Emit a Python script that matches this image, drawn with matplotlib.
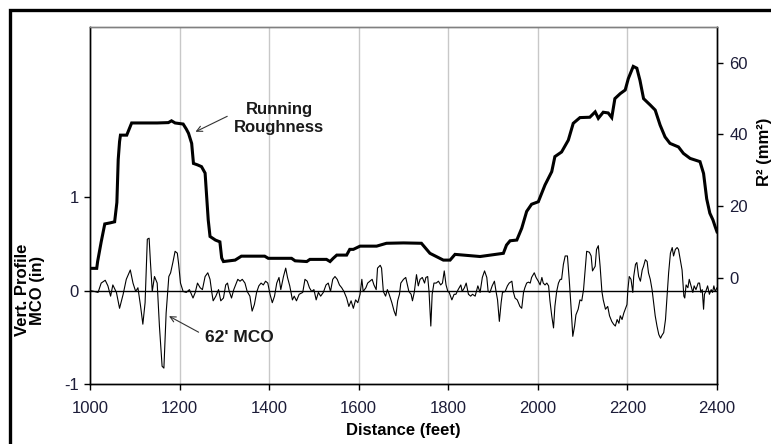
import matplotlib
matplotlib.use("Agg")
import matplotlib.pyplot as plt
from matplotlib.patches import Rectangle

plt.rcParams['font.family'] = ['Liberation Sans', 'DejaVu Sans']
plt.rcParams['axes.unicode_minus'] = False

# 62' MCO profile (inches), left axis
mco_x = [1000, 1010, 1018, 1025, 1034, 1040, 1046, 1051, 1059, 1066, 1074, 1081, 1090, 1096,
         1102, 1107, 1113, 1118, 1123, 1128, 1132, 1135, 1139, 1144, 1150, 1155, 1161, 1165,
         1170, 1176, 1180, 1185, 1190, 1195, 1198, 1202, 1208, 1215, 1222, 1230,
         1235, 1240, 1246, 1251, 1257, 1263, 1268, 1272, 1275, 1281, 1287, 1292, 1298, 1303,
         1307, 1311, 1316, 1321, 1325, 1330, 1335, 1340, 1346, 1351, 1357, 1362, 1367, 1372,
         1377, 1382, 1387, 1392, 1397, 1402, 1407, 1412, 1417, 1422, 1426, 1432, 1437, 1441,
         1446, 1452, 1456, 1461, 1467,
         1475, 1480, 1485, 1490, 1495, 1500, 1505, 1510, 1515, 1521, 1527, 1532, 1537, 1542,
         1547, 1552, 1557, 1562, 1567, 1573, 1578, 1583, 1588, 1593, 1598, 1603, 1607, 1610,
         1616, 1620, 1625, 1630, 1634, 1639, 1642, 1648, 1651, 1655, 1660, 1664, 1668, 1674,
         1679, 1683, 1687, 1691, 1694, 1700, 1705,
         1712, 1717, 1720, 1724, 1729, 1733, 1737, 1742, 1747, 1750, 1754, 1757, 1761, 1764,
         1768, 1773, 1778, 1783, 1787, 1791, 1795, 1799, 1802, 1808, 1813, 1817, 1822, 1828,
         1831, 1836, 1840, 1845, 1850, 1854, 1860, 1866, 1871, 1876, 1881, 1886, 1889, 1893,
         1898, 1903, 1907, 1910, 1914, 1918, 1921, 1927, 1932, 1936, 1942,
         1945, 1949, 1954, 1960, 1964, 1968, 1971, 1975, 1979, 1983, 1986, 1992, 1996, 2001,
         2005, 2009, 2012, 2016, 2020, 2024, 2027, 2031, 2035, 2038, 2042, 2046, 2050, 2053,
         2057, 2061, 2066, 2070, 2074, 2078, 2082, 2085, 2090, 2094, 2098, 2102, 2105, 2109,
         2115, 2119, 2122, 2128, 2131, 2135, 2139, 2143, 2146, 2151, 2156, 2160, 2165,
         2169, 2173, 2177, 2181, 2184, 2188, 2192, 2195, 2199, 2201, 2204, 2208, 2212, 2214,
         2218, 2221, 2225, 2229, 2233, 2236, 2240, 2244, 2247, 2251, 2255, 2259, 2262, 2266,
         2270, 2274, 2277, 2281, 2285, 2288, 2292, 2296, 2300, 2303, 2307, 2311, 2314, 2318,
         2322, 2326, 2328, 2331, 2335, 2338, 2342, 2346, 2349, 2353, 2358, 2361, 2364, 2367,
         2370, 2372, 2375, 2379, 2383, 2387, 2390, 2393, 2396, 2400]
mco_in = [0, -0.01, -0.02, 0.08, 0.11, 0.05, -0.06, 0.06, -0.02, -0.19, -0.04, 0.12, 0.22, 0.08,
          -0.01, 0.03, -0.17, -0.36, -0.13, 0.55, 0.56, 0.30, -0.01, 0.15, 0.08, -0.38, -0.81, -0.83,
          -0.24, 0.15, 0.19, 0.30, 0.42, 0.40, 0.28, 0.08, -0.01, -0.02, 0.01, -0.08,
          -0.02, 0.08, 0.03, 0.01, 0.15, 0.19, 0.12, -0.02, -0.11, -0.06, 0.01, -0.11, -0.08, 0.06,
          0.08, -0.01, -0.08, 0.01, 0.06, 0.12, 0.10, 0.12, 0.08, -0.01, -0.06, -0.22, -0.15, -0.02,
          0.05, 0.08, 0.06, 0.10, 0.08, -0.04, -0.13, -0.06, 0.08, 0.14, 0.01, 0.15, 0.24, 0.14,
          0.05, -0.10, -0.06, -0.11, -0.04,
          -0.02, 0.12, 0.10, 0.03, -0.01, 0.01, -0.10, -0.02, -0.06, -0.02, 0.06, 0.08, -0.01, 0.12,
          0.15, 0.12, 0.06, 0.03, -0.01, -0.08, -0.17, -0.11, -0.19, -0.10, -0.13, -0.04, 0.12, -0.01,
          0.03, 0.08, 0.10, 0.12, 0.06, 0.01, 0.24, 0.27, 0.24, -0.01, -0.06, 0.01, -0.04, -0.13,
          -0.22, -0.27, -0.11, -0.04, 0.08, 0.12, 0.14,
          -0.01, -0.04, -0.11, -0.02, 0.17, 0.05, 0.12, 0.14, 0.08, 0.14, 0.15, -0.01, -0.38, -0.04,
          0.08, 0.08, 0.10, 0.06, 0.08, 0.21, 0.06, -0.01, -0.02, -0.10, -0.04, -0.04, 0.01, 0.06,
          -0.01, 0.03, 0.08, -0.04, -0.06, -0.04, -0.06, 0.05, -0.02, 0.14, 0.21, 0.14, -0.01, -0.02,
          0.05, 0.10, -0.02, -0.10, -0.33, -0.13, -0.02, -0.01, 0.05, 0.08, 0.10,
          -0.01, -0.08, -0.10, -0.17, -0.19, -0.02, 0.03, 0.08, 0.09, 0.08, 0.14, 0.19, 0.14, 0.10,
          0.06, 0.14, 0.08, 0.06, 0.08, 0.05, -0.11, -0.27, -0.40, -0.17, -0.01, 0.08, 0.12, 0.12,
          0.28, 0.37, 0.37, 0.12, -0.17, -0.49, -0.38, -0.26, -0.20, -0.10, -0.11, 0.01, 0.19, 0.42,
          0.41, 0.37, 0.21, 0.26, 0.44, 0.48, 0.26, -0.01, -0.10, -0.20, -0.17, -0.27, -0.33,
          -0.36, -0.38, -0.31, -0.35, -0.27, -0.31, -0.24, -0.20, -0.15, 0.01, 0.15, 0.12, -0.02, 0.15,
          0.28, 0.30, 0.15, 0.10, 0.22, 0.26, 0.33, 0.31, 0.19, 0.12, 0.01, -0.15, -0.27, -0.38,
          -0.47, -0.51, -0.48, -0.45, -0.31, -0.10, 0.19, 0.40, 0.46, 0.37, 0.44, 0.46, 0.44, 0.33,
          0.22, -0.06, -0.08, 0.06, 0.03, 0.12, 0.05, -0.02, 0.05, 0.01, 0.08, 0.08, -0.02, 0.01,
          -0.20, -0.04, -0.01, 0.05, -0.04, 0.01, -0.02, 0.05, -0.01, 0.03]

# running roughness R^2 (mm^2), right axis
rr_x = [1000, 1015, 1017, 1025, 1033, 1045, 1055, 1060, 1063, 1066, 1068, 1082, 1093, 1120,
        1150, 1175, 1182, 1190, 1208, 1215, 1220, 1227, 1231, 1240, 1249, 1257, 1261, 1264,
        1268, 1280, 1290, 1294, 1298, 1324, 1338, 1390, 1398, 1450, 1458, 1484, 1491, 1528,
        1536, 1543, 1551, 1573, 1580, 1588, 1603, 1640, 1662, 1700, 1740, 1759, 1789, 1804,
        1815, 1871, 1923, 1930, 1938, 1953, 1964, 1975, 1986, 2001, 2016, 2031, 2038, 2053,
        2068, 2079, 2094, 2116, 2128, 2135, 2146, 2157, 2165, 2172, 2184, 2195, 2202, 2213,
        2221, 2228, 2236, 2251, 2262, 2273, 2284, 2295, 2314, 2325, 2340, 2362, 2370, 2377,
        2384, 2391, 2396, 2400]
rr_val = [2.6, 2.6, 4.5, 10, 15, 15.3, 15.6, 21, 33, 38, 39.8, 39.8, 43.2, 43.2,
          43.2, 43.3, 43.8, 43.2, 42.9, 41.5, 40.3, 37.5, 31.9, 31.5, 31, 29.2, 21.7, 16.1,
          11.5, 10.5, 10, 5.5, 4.5, 4.9, 6, 6, 5.4, 5.4, 4.7, 4.5, 5.1, 5.1,
          4.5, 5.4, 6.3, 6.3, 7.9, 7.9, 8.8, 8.8, 9.6, 9.7, 9.6, 6.8, 4.9, 4.9,
          6.5, 5.9, 6.8, 9.1, 10.3, 10.5, 13.8, 18.5, 20.5, 21.2, 25.9, 29.6, 33.8, 35.1,
          38.4, 43.1, 44.7, 44.8, 46.3, 44.5, 46.2, 46, 44.7, 50, 51.4, 52.4, 55.6, 59,
          58.5, 55.1, 50, 48.2, 46.8, 42.6, 39.3, 37.5, 36.5, 34.7, 33.3, 32.4, 29.1, 22,
          18, 16.1, 14.2, 12.8]

x_ticks = [1000, 1200, 1400, 1600, 1800, 2000, 2200, 2400]
left_ticks = [-1, 0, 1]
right_ticks = [0, 20, 40, 60]

tick_col = '#1c1c38'

fig = plt.figure(figsize=(7.71, 4.44), dpi=100)
ax = fig.add_axes([90/771, 1-384/444, 627/771, 357/444])
ax2 = ax.twinx()

# light vertical grid
for gx in x_ticks[1:-1]:
    ax.axvline(gx, color='#c8c8c8', lw=1.0, zorder=0)

ax.axhline(0, color='black', lw=1.0, zorder=2)
ax.plot(mco_x, mco_in, color='black', lw=0.8, zorder=3)
ax2.plot(rr_x, rr_val, color='black', lw=2.2, solid_joinstyle='miter', zorder=3)

ax.set_xlim(1000, 2400)
ax.set_ylim(-1, 2.82)
ax2.set_ylim(-29.7, 70)
ax.set_xticks(x_ticks)
ax.set_yticks(left_ticks)
ax2.set_yticks(right_ticks)

ax.tick_params(axis='both', direction='out', length=4, width=1, labelsize=12,
               labelcolor=tick_col, pad=4)
ax.tick_params(axis='x', pad=8)
ax2.tick_params(axis='y', direction='out', length=4, width=1, labelsize=12,
                labelcolor=tick_col, pad=5)

for a in (ax, ax2):
    for s in a.spines.values():
        s.set_linewidth(1.0)
        s.set_color('black')
    a.spines['top'].set_color('#808080')

ax.set_xlabel('Distance (feet)', fontsize=12, fontweight='bold', labelpad=5.5)
ax.set_ylabel('Vert. Profile\nMCO (in)', fontsize=12, fontweight='bold', linespacing=1.0)
ax.yaxis.set_label_coords(-0.071, 0.263)
ax2.set_ylabel('R² (mm²)', fontsize=12, fontweight='bold')
ax2.yaxis.set_label_coords(1.064, 0.65)

# annotations
ax2.text(1422, 44.5, 'Running\nRoughness', ha='center', va='center', fontsize=12,
         fontweight='bold', linespacing=1.3, color='#1a1a1a')
ax2.annotate('', xy=(1230, 40.4), xytext=(1312, 45.4),
             arrowprops=dict(arrowstyle='->', color='#333333', lw=0.8))
ax.text(1257, -0.50, "62' MCO", ha='left', va='center', fontsize=12.5,
        fontweight='bold', color='#1a1a1a')
ax.annotate('', xy=(1171, -0.26), xytext=(1248, -0.46),
            arrowprops=dict(arrowstyle='->', color='#333333', lw=0.8))

# thick outer frame (runs off the bottom and right of the picture)
fig.add_artist(Rectangle((10/771, -0.1), 1.2, 0.1 + 1 - 10/444, transform=fig.transFigure,
                         fill=False, edgecolor='black', lw=2.4))

fig.savefig('out.png', dpi=100)
